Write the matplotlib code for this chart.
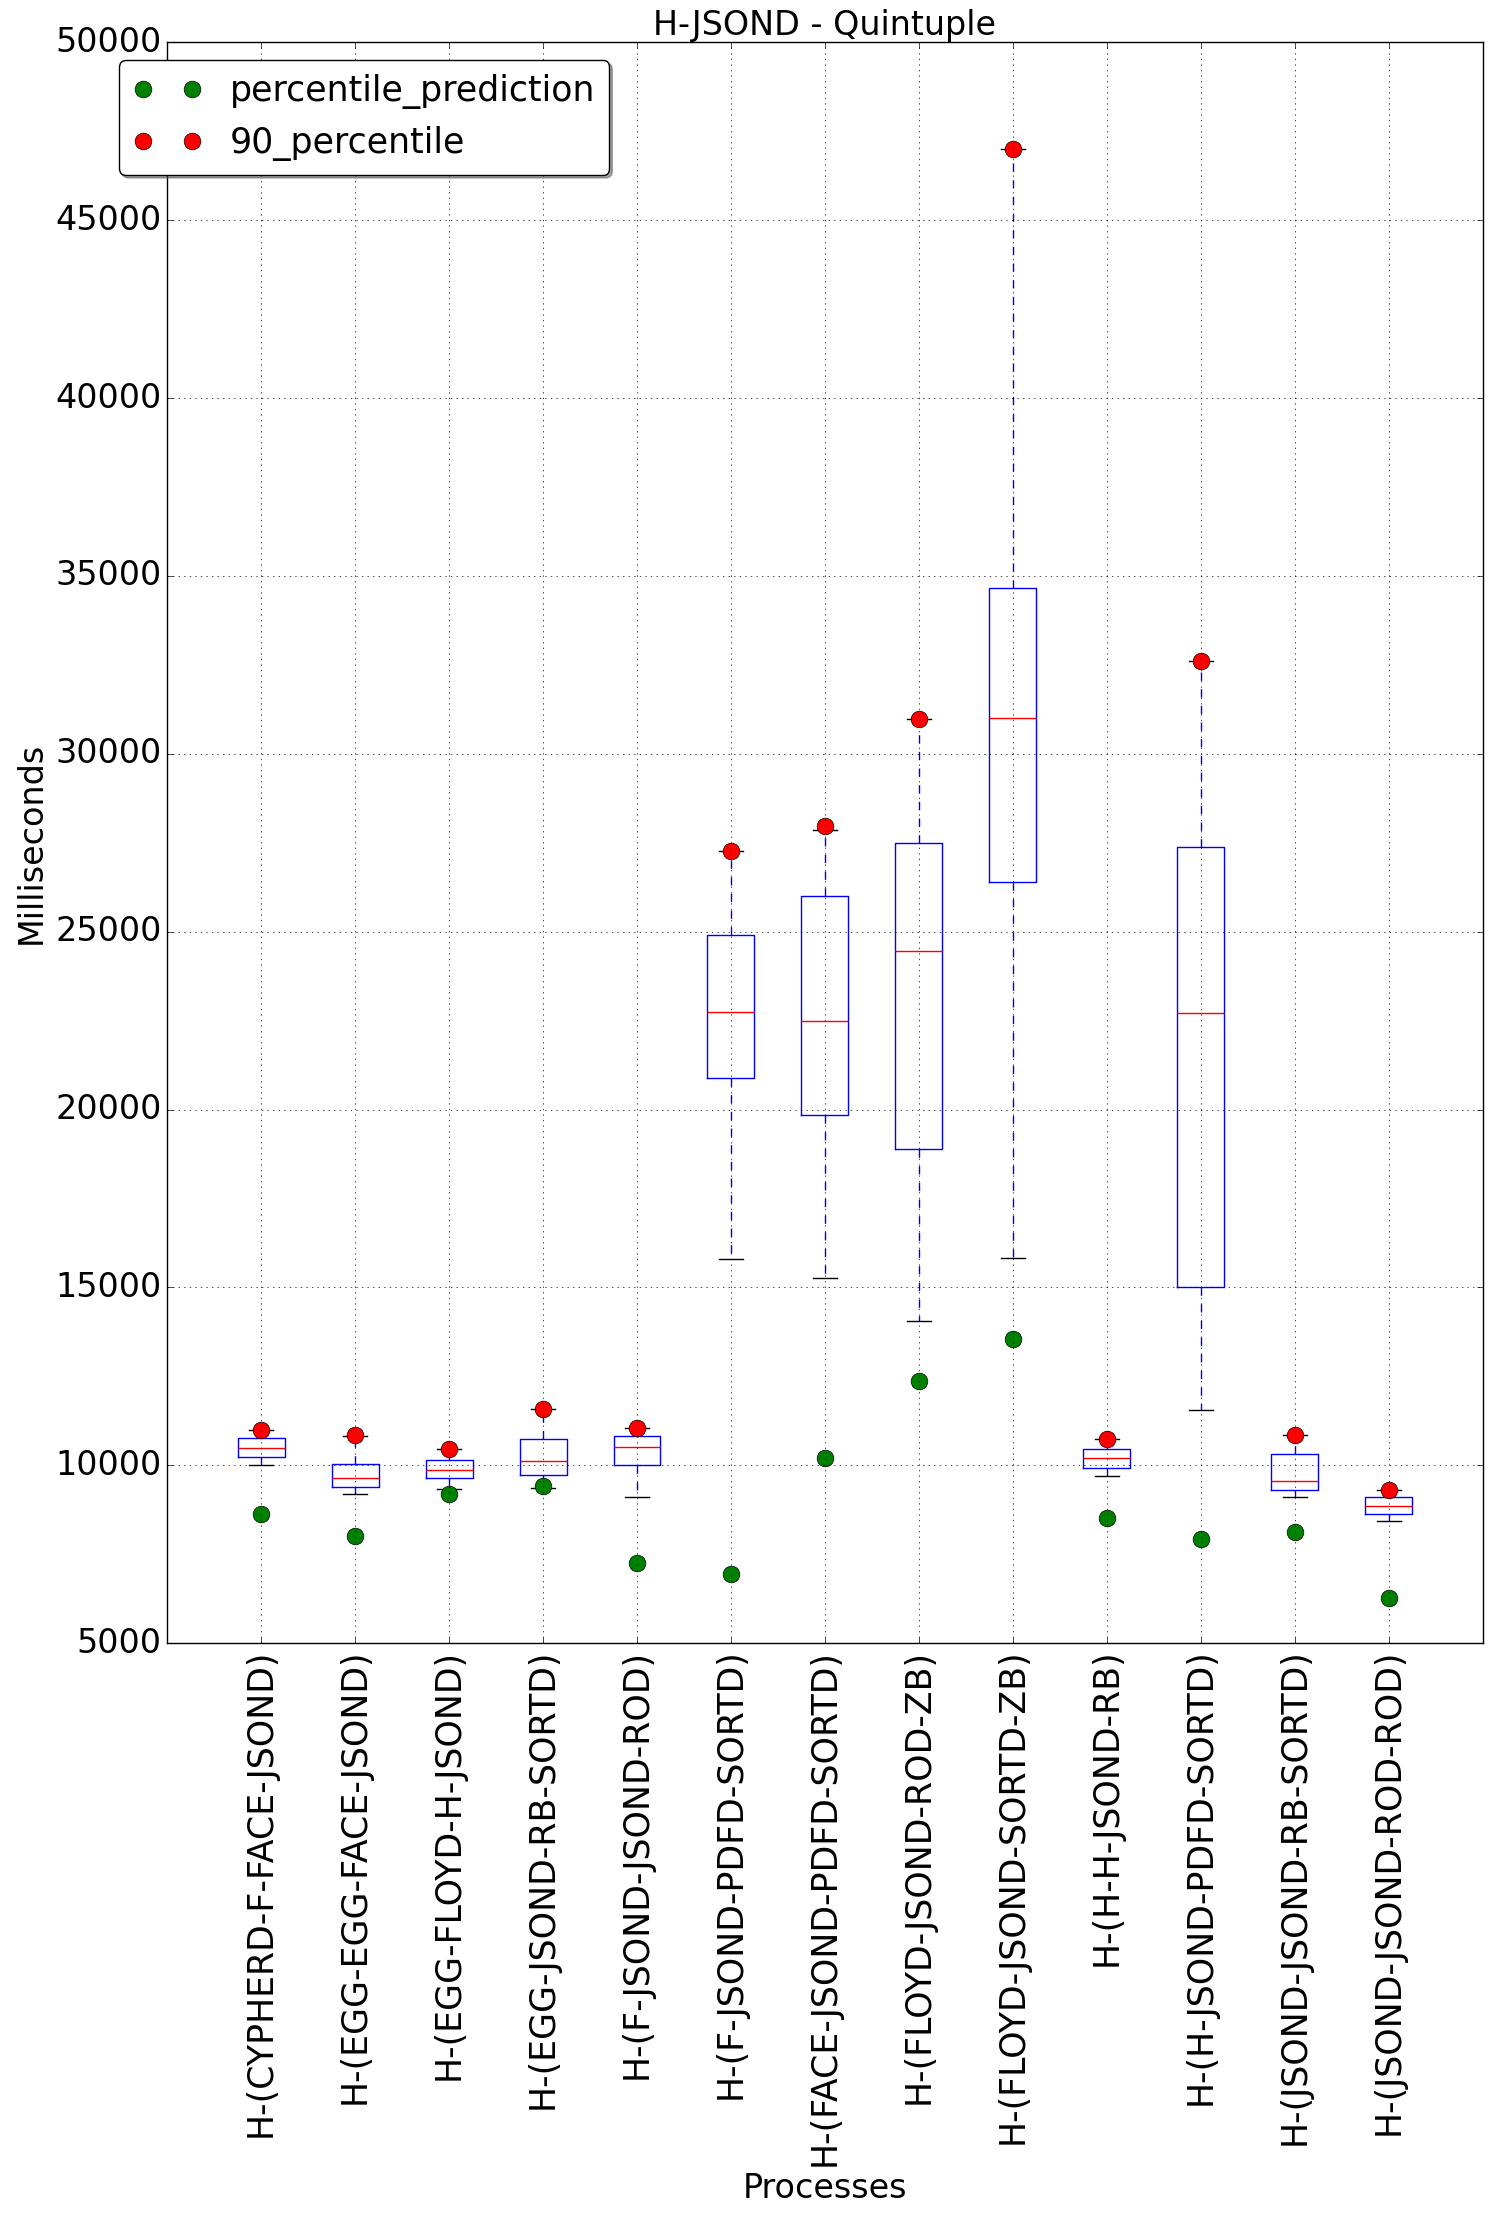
#!/usr/bin/env python3
# -*- coding: utf-8 -*-
# box plot of process timings, old classic matplotlib look
import matplotlib
matplotlib.use('Agg')
import matplotlib.pyplot as plt

plt.style.use('classic')
plt.rcParams['font.family'] = ['DejaVu Sans']

# data
labels = ['H-(CYPHERD-F-FACE-JSOND)', 'H-(EGG-EGG-FACE-JSOND)', 'H-(EGG-FLOYD-H-JSOND)',
          'H-(EGG-JSOND-RB-SORTD)', 'H-(F-JSOND-JSOND-ROD)', 'H-(F-JSOND-PDFD-SORTD)',
          'H-(FACE-JSOND-PDFD-SORTD)', 'H-(FLOYD-JSOND-ROD-ZB)', 'H-(FLOYD-JSOND-SORTD-ZB)',
          'H-(H-H-JSOND-RB)', 'H-(H-JSOND-PDFD-SORTD)', 'H-(JSOND-JSOND-RB-SORTD)',
          'H-(JSOND-JSOND-ROD-ROD)']
q1 = [10225, 9382, 9635, 9719, 10000, 20875, 19860, 18880, 26406, 9916, 15000, 9298, 8624]
med = [10478, 9644, 9869, 10122, 10506, 22754, 22485, 24450, 31014, 10200, 22707, 9551, 8858]
q3 = [10758, 10037, 10140, 10730, 10815, 24903, 26002, 27490, 34668, 10455, 27382, 10309, 9101]
whislo = [10000, 9185, 9335, 9373, 9110, 15799, 15251, 14061, 15834, 9700, 11552, 9110, 8427]
whishi = [10993, 10824, 10449, 11592, 11039, 27280, 27850, 30982, 47005, 10740, 32598, 10843, 9307]
p90 = [10993, 10843, 10449, 11592, 11039, 27280, 27975, 30982, 47005, 10740, 32598, 10843, 9307]
pred = [8633, 8006, 9185, 9410, 7247, 6938, 10210, 12370, 13559, 8511, 7922, 8118, 6264]

stats = []
for i in range(len(labels)):
    stats.append({'label': labels[i], 'q1': q1[i], 'med': med[i], 'q3': q3[i],
                  'whislo': whislo[i], 'whishi': whishi[i], 'fliers': []})

fig = plt.figure(figsize=(14.94, 22.21), dpi=100)
ax = fig.add_axes([0.1118, 0.2602, 0.8808, 0.7207])

ax.bxp(stats, showfliers=False)
pos = list(range(1, len(labels) + 1))
ax.plot(pos, pred, 'go', markersize=12, label='percentile_prediction')
ax.plot(pos, p90, 'ro', markersize=12, label='90_percentile')

ax.set_xlim(0, 14)
ax.set_ylim(5000, 50000)
ax.set_xticks(pos)
ax.set_xticklabels(labels, rotation=90, fontsize=25)
ax.tick_params(axis='y', labelsize=24)
ax.grid(True)

ax.set_title('H-JSOND - Quintuple', fontsize=24)
ax.set_xlabel('Processes', fontsize=24)
ax.set_ylabel('Milliseconds', fontsize=24)

ax.legend(loc='upper left', bbox_to_anchor=(-0.0365, 0.989), borderaxespad=0,
          numpoints=2, shadow=True, fancybox=True, fontsize=25)

fig.savefig('out.png', dpi=100)
